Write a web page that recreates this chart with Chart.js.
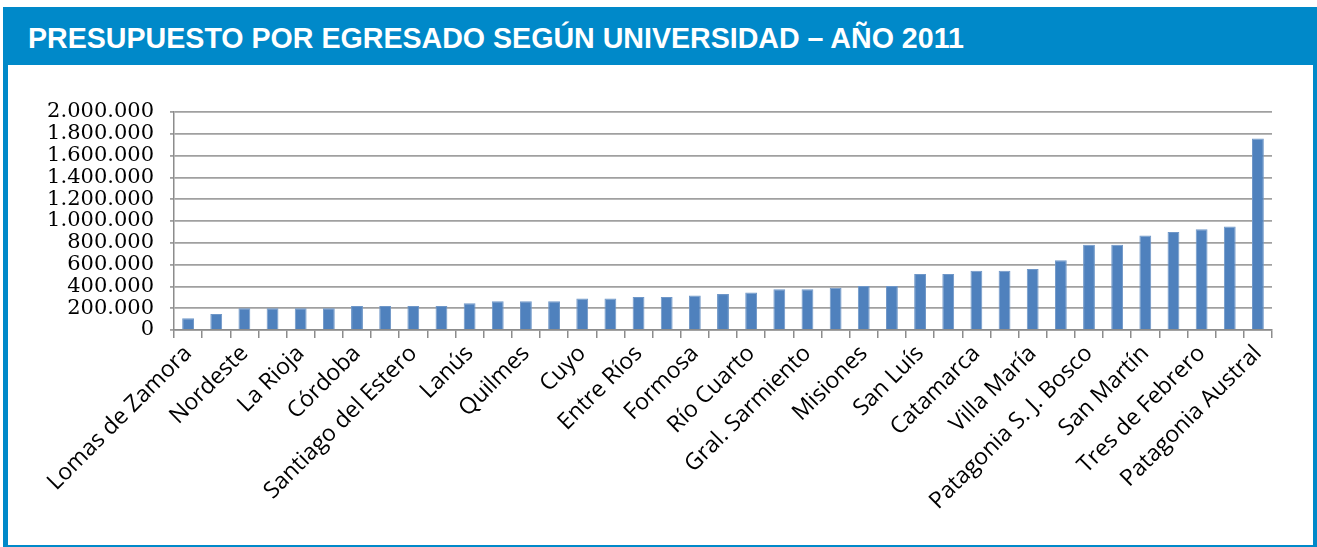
<!DOCTYPE html>
<html lang="es">
<head>
<meta charset="utf-8">
<title>Presupuesto por egresado según universidad – Año 2011</title>
<script src="https://cdn.jsdelivr.net/npm/chart.js@4.4.1/dist/chart.umd.min.js"></script>
<style>
    html, body {
        margin: 0;
        padding: 0;
        background: #ffffff;
    }
    body {
        width: 1317px;
        height: 547px;
        position: relative;
        overflow: hidden;
    }
    .frame {
        position: absolute;
        left: 3px;
        top: 7px;
        width: 1314px;
        height: 540px;
        background: #0089c9;
    }
    .frame h1 {
        position: absolute;
        left: 25px;
        top: 14px;
        margin: 0;
        font-family: 'Liberation Sans', Arial, sans-serif;
        font-weight: bold;
        font-size: 28.6px;
        line-height: 34px;
        color: #ffffff;
        white-space: nowrap;
    }
    .panel {
        position: absolute;
        left: 5px;
        top: 58px;
        width: 1305px;
        height: 480px;
        background: #ffffff;
    }
</style>
</head>
<body>
<div class="frame">
    <h1>PRESUPUESTO POR EGRESADO SEGÚN UNIVERSIDAD – AÑO 2011</h1>
    <div class="panel">
        <canvas id="budgetChart" width="1305" height="480"></canvas>
    </div>
</div>

<script>
(function () {
    'use strict';

    // Universities, ordered by budget per graduate (only every other name is printed)
    const universities = [
        'Lomas de Zamora', '', 'Nordeste', '', 'La Rioja', '', 'Córdoba', '',
        'Santiago del Estero', '', 'Lanús', '', 'Quilmes', '', 'Cuyo', '',
        'Entre Ríos', '', 'Formosa', '', 'Río Cuarto', '', 'Gral. Sarmiento', '',
        'Misiones', '', 'San Luís', '', 'Catamarca', '', 'Villa María', '',
        'Patagonia S. J. Bosco', '', 'San Martín', '', 'Tres de Febrero', '',
        'Patagonia Austral'
    ];

    // Budget per graduate (pesos)
    const budgetPerGraduate = [
        107000, 147000, 199000, 199000, 199000, 199000, 220000, 220000,
        220000, 220000, 245000, 263000, 263000, 263000, 290000, 290000,
        302000, 302000, 317000, 330000, 345000, 373000, 373000, 388000,
        403000, 403000, 513000, 513000, 543000, 543000, 559000, 641000,
        782000, 782000, 867000, 898000, 925000, 950000, 1756000
    ];

    // Y axis range
    const yMin = 0;
    const yMax = 2000000;
    const yStep = 200000;

    function formatThousands(value) {
        return String(value).replace(/\B(?=(\d{3})+(?!\d))/g, '.');
    }

    const ctx = document.getElementById('budgetChart').getContext('2d');

    new Chart(ctx, {
        type: 'bar',
        data: {
            labels: universities,
            datasets: [{
                label: 'Presupuesto por egresado',
                data: budgetPerGraduate,
                backgroundColor: '#4f81bd',
                borderColor: '#6f97c8',
                borderWidth: 1,
                categoryPercentage: 1,
                barPercentage: 0.42
            }]
        },
        options: {
            responsive: false,
            animation: false,
            layout: {
                padding: { top: 47, right: 41, bottom: 0, left: 0 }
            },
            plugins: {
                legend: { display: false },
                tooltip: { enabled: false },
                title: { display: false }
            },
            scales: {
                x: {
                    offset: true,
                    grid: {
                        display: true,
                        offset: true,
                        drawOnChartArea: false,
                        tickLength: 8,
                        color: '#8c8c8c',
                        lineWidth: 1.5
                    },
                    border: { color: '#8c8c8c', width: 1.5 },
                    ticks: {
                        autoSkip: false,
                        maxRotation: 45,
                        minRotation: 45,
                        padding: 2,
                        color: '#000000',
                        font: { family: "'Open Sans', sans-serif", size: 23 }
                    },
                    afterFit: function (scale) {
                        scale.height = 215;
                    }
                },
                y: {
                    min: yMin,
                    max: yMax,
                    grid: {
                        color: '#a0a0a0',
                        lineWidth: 1.8,
                        tickLength: 4
                    },
                    border: { color: '#8c8c8c', width: 1.5 },
                    ticks: {
                        autoSkip: false,
                        stepSize: yStep,
                        padding: 16,
                        color: '#000000',
                        font: { family: "'DejaVu Serif', serif", size: 21 },
                        callback: function (value) {
                            return formatThousands(value);
                        }
                    },
                    afterFit: function (scale) {
                        scale.width = 166;
                    }
                }
            }
        }
    });
})();
</script>
</body>
</html>
